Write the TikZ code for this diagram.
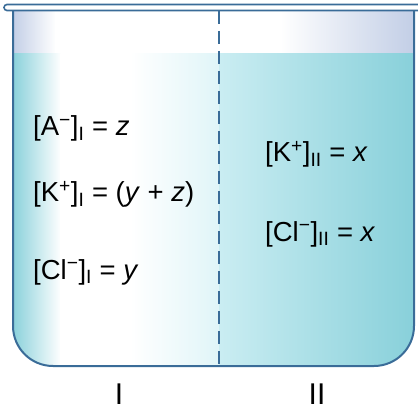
\documentclass[tikz,border=0pt]{standalone}
\usepackage{fontspec}
\setmainfont{Liberation Sans}
\definecolor{wallblue}{RGB}{58,108,152}
\definecolor{watercyan}{RGB}{136,208,218}
\definecolor{waterpale}{RGB}{224,245,248}
\definecolor{waterright}{RGB}{202,237,242}
\definecolor{airlilac}{RGB}{194,206,230}
\usetikzlibrary{positioning}

\begin{document}
\begin{tikzpicture}[x=1pt, y=-1pt,
  every node/.style={font=\fontsize{27.5}{32}\selectfont},
  conc/.style={anchor=base west, inner sep=0pt},
  side/.style={anchor=base, inner sep=0pt, font=\fontsize{30}{34}\selectfont}]
  \useasboundingbox (0,0) rectangle (418,409);
  % solution and air inside the beaker
  \begin{scope}
    \clip (13,10) -- (13,326) arc (180:90:40) -- (374,366) arc (90:0:40) -- (414,10) -- cycle;
    \shade[left color=airlilac, right color=white] (12,9) rectangle (56,54);
    \fill[white] (55,9) rectangle (281,54);
    \shade[left color=white, right color=airlilac] (280,9) rectangle (415,54);
    \shade[left color=watercyan, right color=white] (12,54) rectangle (61,370);
    \fill[white] (60,54) rectangle (131,370);
    \shade[left color=white, right color=waterpale] (130,54) rectangle (219,370);
    \shade[left color=waterright, right color=watercyan] (219,54) rectangle (415,370);
  \end{scope}
  % membrane
  \draw[wallblue, line width=1.9, dash pattern=on 13pt off 7pt] (219,11) -- (219,366);
  % beaker
  \draw[wallblue, line width=2] (13,10) -- (13,326) arc (180:90:40) -- (374,366) arc (90:0:40) -- (414,10);
  \draw[wallblue, line width=1.6, fill=white, rounded corners=3] (4,4.5) rectangle (425,10.5);
  % concentrations
  \node[conc] (anionI) at (33,136) {[A\textsuperscript{−}]\textsubscript{I} = \textit{z}};
  \node[conc] (potI) at (33,202) {[K\textsuperscript{+}]\textsubscript{I} = (\textit{y} + \textit{z})};
  \node[conc] (chlI) at (33,279) {[Cl\textsuperscript{−}]\textsubscript{I} = \textit{y}};
  \node[conc] (potII) at (265,162) {[K\textsuperscript{+}]\textsubscript{II} = \textit{x}};
  \node[conc] (chlII) at (265,241) {[Cl\textsuperscript{−}]\textsubscript{II} = \textit{x}};
  % compartments
  \node[side] (compI) at (119,404) {I};
  \node[side] (compII) at (317,404) {II};
\end{tikzpicture}
\end{document}
